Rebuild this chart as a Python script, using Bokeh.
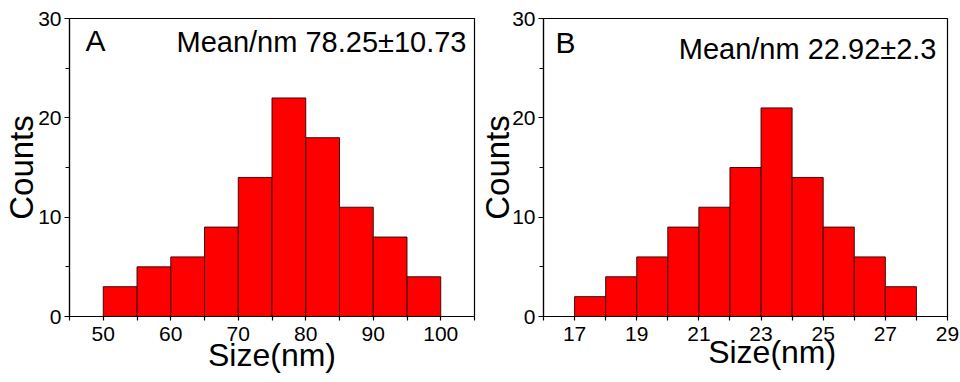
from bokeh.plotting import figure
from bokeh.layouts import row
from bokeh.models import Range1d, FixedTicker, Label
from bokeh.embed import file_html
from bokeh.resources import INLINE

# ---- data: panel A ----
a_edges = [50, 55, 60, 65, 70, 75, 80, 85, 90, 95, 100]
a_counts = [3, 5, 6, 9, 14, 22, 18, 11, 8, 4]
a_xticks = [50, 60, 70, 80, 90, 100]
a_xminor = [45, 55, 65, 75, 85, 95, 105]
a_xrange = (45, 105)
a_letter = "A"
a_stat = "Mean/nm 78.25±10.73"

# ---- data: panel B ----
b_edges = [17, 18, 19, 20, 21, 22, 23, 24, 25, 26, 27, 28]
b_counts = [2, 4, 6, 9, 11, 15, 21, 14, 9, 6, 3]
b_xticks = [17, 19, 21, 23, 25, 27, 29]
b_xminor = [16, 18, 20, 22, 24, 26, 28]
b_xrange = (16, 29)
b_letter = "B"
b_stat = "Mean/nm 22.92±2.3"

y_ticks = [0, 10, 20, 30]
y_minor = [5, 15, 25]
y_range = (0, 30)
x_title = "Size(nm)"
y_title = "Counts"

FONT = "Liberation Sans"
NBSP = "\u00a0"


def panel(edges, counts, xticks, xminor, xr, letter, stat, width, mb,
          xtitle, xtitle_standoff, ytitle_standoff, letter_pos, stat_pos):
    p = figure(width=width, height=382, x_range=Range1d(*xr), y_range=Range1d(*y_range),
               output_backend="svg", toolbar_location=None,
               min_border_left=mb[0], min_border_right=mb[1],
               min_border_top=mb[2], min_border_bottom=mb[3])
    p.xgrid.visible = False
    p.ygrid.visible = False
    p.background_fill_color = "white"
    p.border_fill_color = "white"
    p.outline_line_color = "black"
    p.outline_line_width = 1.2
    p.outline_line_alpha = 1.0

    p.quad(left=edges[:-1], right=edges[1:], bottom=0, top=counts,
           fill_color="#ff0000", line_color="#2a0000", line_width=0.9)

    for ax in (p.xaxis[0], p.yaxis[0]):
        ax.axis_line_color = "black"
        ax.axis_line_width = 1.2
        ax.major_tick_line_color = "black"
        ax.minor_tick_line_color = "black"
        ax.major_tick_line_width = 1.2
        ax.minor_tick_line_width = 1.2
        ax.major_tick_in = 0
        ax.minor_tick_in = 0
        ax.major_label_text_font = FONT
        ax.major_label_text_font_size = "21px"
        ax.major_label_text_color = "black"
        ax.axis_label_text_font = FONT
        ax.axis_label_text_font_style = "normal"
        ax.axis_label_text_color = "black"

    p.xaxis.ticker = FixedTicker(ticks=xticks, minor_ticks=xminor)
    p.xaxis.major_tick_out = 4
    p.xaxis.minor_tick_out = 4
    p.xaxis.major_label_standoff = 6
    p.xaxis.axis_label = xtitle
    p.xaxis.axis_label_text_font_size = "32px"
    p.xaxis.axis_label_standoff = xtitle_standoff

    p.yaxis.ticker = FixedTicker(ticks=y_ticks, minor_ticks=y_minor)
    p.yaxis.major_tick_out = 5
    p.yaxis.minor_tick_out = 4
    p.yaxis.major_label_standoff = 3
    p.yaxis.axis_label = y_title
    p.yaxis.axis_label_text_font_size = "33px"
    p.yaxis.axis_label_standoff = ytitle_standoff

    p.add_layout(Label(x=letter_pos[0], y=letter_pos[1], x_units="screen", y_units="screen",
                       text=letter, text_align="left", text_baseline="alphabetic",
                       text_font=FONT, text_font_size="30px", text_color="black"))
    p.add_layout(Label(x=stat_pos[0], y=stat_pos[1], x_units="screen", y_units="screen",
                       text=stat, text_align="right", text_baseline="alphabetic",
                       text_font=FONT, text_font_size="29px", text_color="black"))
    return p


pa = panel(a_edges, a_counts, a_xticks, a_xminor, a_xrange, a_letter, a_stat,
           476, (68, 2, 18, 66), x_title, -7, -5, (16, 276), (397, 275))
pb = panel(b_edges, b_counts, b_xticks, b_xminor, b_xrange, b_letter, b_stat,
           484, (66, 13, 18, 66), NBSP * 6 + x_title, -10, -7, (12, 274), (393, 268))

layout = row(pa, pb)
open("out.html", "w").write(file_html(layout, INLINE))
